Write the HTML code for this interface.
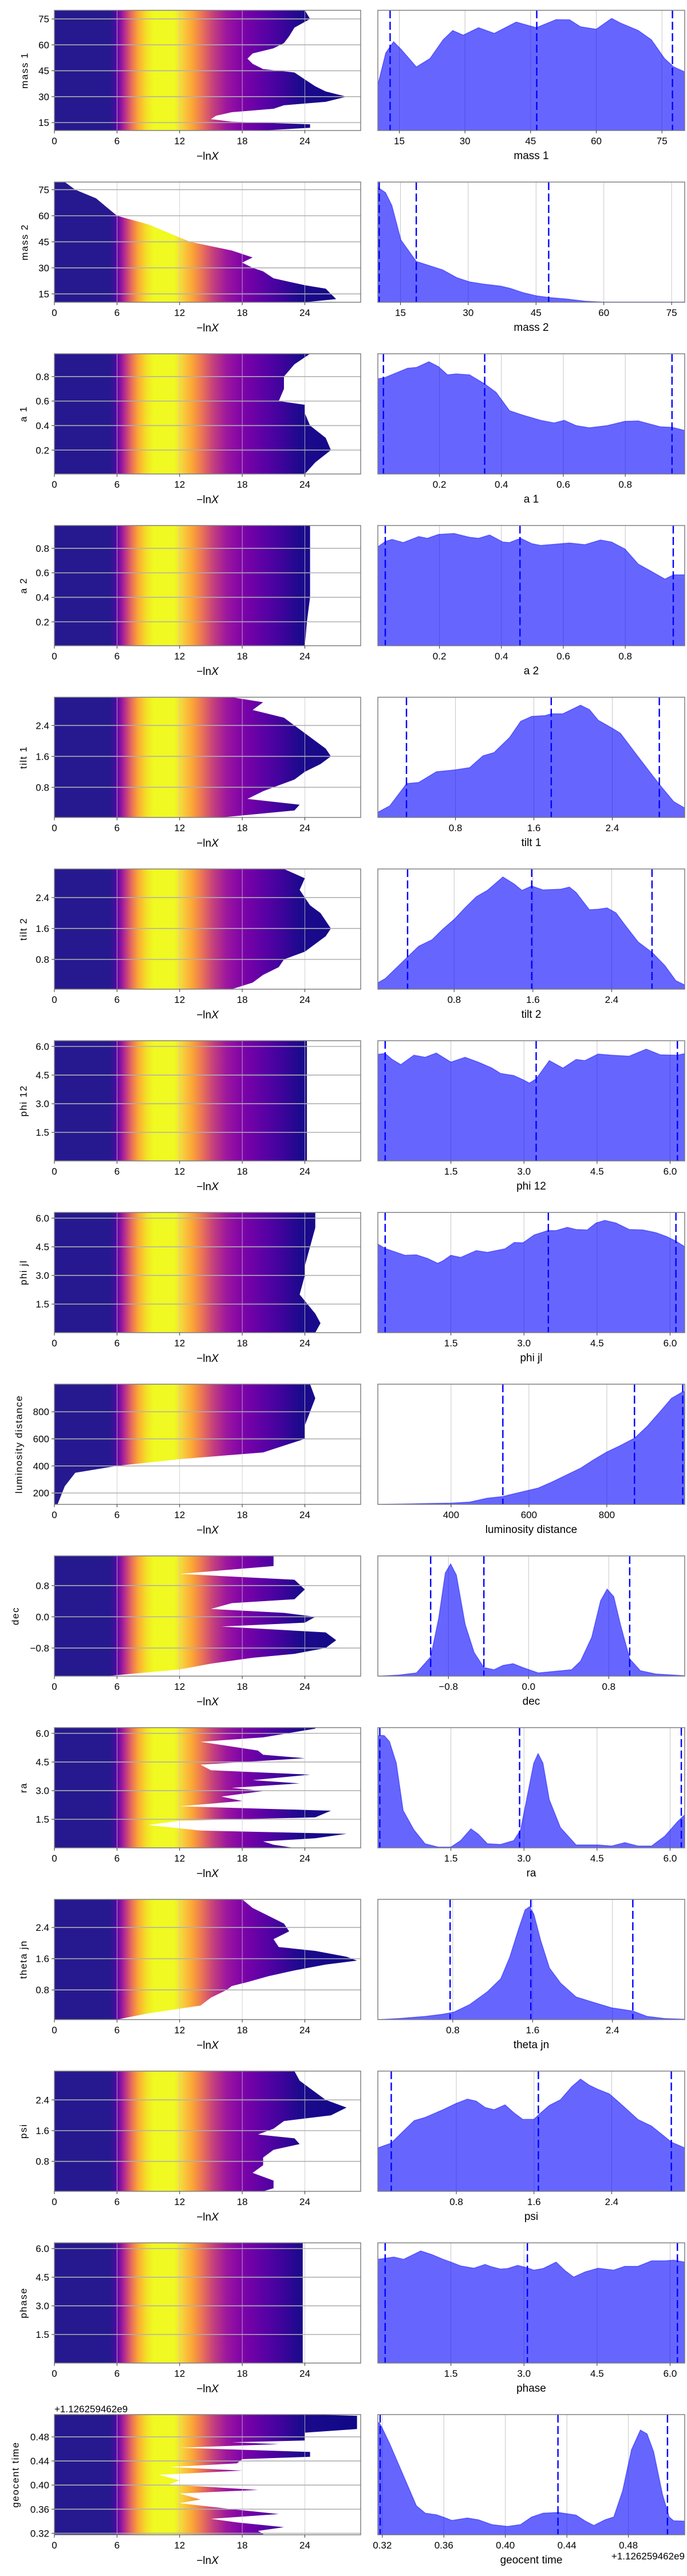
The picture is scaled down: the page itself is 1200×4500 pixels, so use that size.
<!DOCTYPE html>
<html><head><meta charset="utf-8">
<style>
html,body{margin:0;padding:0;background:#fff;}
svg{display:block;}
text{font-family:"Liberation Sans","DejaVu Sans",sans-serif;fill:#000;}
</style></head>
<body>
<svg id="fig" width="1200" height="4500" viewBox="0 0 1200 4500" xmlns="http://www.w3.org/2000/svg">
<defs>
<linearGradient id="plasma" gradientUnits="userSpaceOnUse" x1="95" y1="0" x2="630" y2="0">
<stop offset="0" stop-color="#26198f"/>
<stop offset="0.181" stop-color="#26198f"/>
<stop offset="0.201" stop-color="#4a0ca0"/>
<stop offset="0.211" stop-color="#7a05a8"/>
<stop offset="0.232" stop-color="#bb3488"/>
<stop offset="0.252" stop-color="#e76f5a"/>
<stop offset="0.273" stop-color="#fca835"/>
<stop offset="0.300" stop-color="#f4e027"/>
<stop offset="0.324" stop-color="#f0f921"/>
<stop offset="0.392" stop-color="#f0f921"/>
<stop offset="0.419" stop-color="#f7d03c"/>
<stop offset="0.450" stop-color="#fca636"/>
<stop offset="0.487" stop-color="#e66c5c"/>
<stop offset="0.521" stop-color="#c23d80"/>
<stop offset="0.562" stop-color="#9c179e"/>
<stop offset="0.613" stop-color="#7e03a8"/>
<stop offset="0.681" stop-color="#5c01a6"/>
<stop offset="0.750" stop-color="#3a049a"/>
<stop offset="0.801" stop-color="#1c0a8c"/>
<stop offset="1" stop-color="#0d0887"/>
</linearGradient>
</defs>
</svg>
<script>
// ---------- data ----------
const mass1ExtY=[10.4,12,14,15.5,17,19,21,23,25,27,30,33,36,40,44,46,49,52,55,58,61,65,70,75,80];
const mass1ExtX=[20,24.5,24.5,17,15,15.5,17,21,22,26,28,26,25,24,23,20,19,18.5,19,21,22,22.5,23,24.5,24];
const mass1KdeX=[10.1,11.9,13.7,15.4,18.9,22.0,25.0,27.2,29.6,33.1,36.7,41.7,46.3,50.8,53.9,56.4,60.0,63.5,65.5,69.6,72.6,75.6,77.7,80.2];
const mass1KdeY=[0.389,0.659,0.754,0.690,0.540,0.611,0.770,0.849,0.810,0.873,0.825,0.921,0.873,0.941,0.940,0.881,0.860,0.952,0.913,0.849,0.770,0.611,0.540,0.498];
const mass1Quant=[12.9,46.4,77.4];

const mass2ExtY=[10.2,12,15,18,20,22,24,26,28,30,33,36,40,45,50,55,60,65,70,75,79.4];
const mass2ExtX=[24,27,26.5,26,24,22.5,21,20.5,20,19,18,19,17,13,11,9,6,5,4,2,1];
const mass2KdeX=[10.0,10.3,11.7,13.1,15.1,18.5,21.5,24.4,27.4,30.3,33.3,37.2,39.2,42.1,45.1,48.0,51.9,55.9,59.8,77.9];
const mass2KdeY=[0.98,0.967,0.931,0.821,0.529,0.347,0.310,0.274,0.210,0.173,0.155,0.137,0.119,0.082,0.055,0.040,0.027,0.009,0.002,0.002];
const mass2Quant=[10.3,18.5,47.8];

const a1ExtY=[0.005,0.1,0.2,0.3,0.4,0.5,0.57,0.6,0.7,0.8,0.9,0.986];
const a1ExtX=[24,25,26.5,26,24.5,24,24,21.5,22,22,23,24.5];
const a1KdeX=[0.001,0.025,0.097,0.126,0.166,0.197,0.226,0.254,0.297,0.346,0.383,0.426,0.469,0.527,0.570,0.603,0.641,0.684,0.742,0.799,0.842,0.913,0.952,0.992];
const a1KdeY=[0.807,0.820,0.898,0.905,0.953,0.911,0.842,0.850,0.842,0.765,0.693,0.538,0.500,0.456,0.434,0.456,0.411,0.392,0.411,0.447,0.451,0.401,0.396,0.370];
const a1Quant=[0.019,0.346,0.951];

const a2ExtY=[0.005,0.2,0.4,0.6,0.8,0.986];
const a2ExtX=[24,24.2,24.5,24.5,24.5,24.5];
const a2KdeX=[0.001,0.025,0.047,0.083,0.133,0.161,0.197,0.247,0.297,0.326,0.362,0.405,0.426,0.462,0.498,0.527,0.570,0.620,0.670,0.720,0.756,0.799,0.842,0.885,0.928,0.956,0.992];
const a2KdeY=[0.839,0.885,0.903,0.876,0.927,0.912,0.945,0.953,0.921,0.912,0.940,0.880,0.876,0.912,0.867,0.852,0.861,0.872,0.858,0.898,0.880,0.821,0.693,0.630,0.566,0.602,0.602];
const a2Quant=[0.025,0.46,0.955];

const tilt1ExtY=[0.02,0.2,0.35,0.5,0.7,0.8,1.0,1.2,1.4,1.6,1.8,2.0,2.2,2.4,2.6,2.8,3.0,3.13];
const tilt1ExtX=[16,23,23.5,18.5,20,21,23,24,25.5,26.5,26,25,24,23,22,19,20,17];
const tilt1KdeX=[0.008,0.130,0.302,0.424,0.605,0.800,0.945,1.081,1.194,1.352,1.465,1.578,1.714,1.777,1.895,2.076,2.167,2.257,2.393,2.483,2.664,2.881,3.026,3.139];
const tilt1KdeY=[0.044,0.099,0.288,0.297,0.388,0.405,0.423,0.524,0.551,0.679,0.816,0.858,0.865,0.880,0.880,0.953,0.916,0.825,0.761,0.715,0.515,0.281,0.135,0.080];
const tilt1Quant=[0.30,1.777,2.88];

const tilt2ExtY=[0.03,0.2,0.4,0.6,0.8,1.0,1.2,1.4,1.6,1.8,2.0,2.2,2.4,2.6,2.9,3.14];
const tilt2ExtX=[17,19,20,21.5,22,24,25,26,26.5,26,25.5,24.5,24,23.5,24,22];
const tilt2KdeX=[0.025,0.102,0.237,0.327,0.440,0.575,0.687,0.800,0.913,1.025,1.138,1.295,1.408,1.489,1.588,1.701,1.881,1.971,2.039,2.174,2.264,2.354,2.444,2.534,2.669,2.814,2.940,3.052,3.142];
const tilt2KdeY=[0.055,0.091,0.201,0.274,0.365,0.420,0.511,0.593,0.693,0.785,0.839,0.953,0.894,0.839,0.876,0.843,0.849,0.867,0.821,0.675,0.679,0.690,0.648,0.547,0.401,0.310,0.201,0.073,0.036];
const tilt2Quant=[0.327,1.588,2.81];

const phi12ExtY=[0.005,3,6.3];
const phi12ExtX=[24.2,24.2,24.2];
const phi12KdeX=[0.00,0.15,0.29,0.47,0.74,0.97,1.20,1.50,1.79,2.06,2.34,2.52,2.79,2.98,3.11,3.25,3.52,3.80,4.07,4.25,4.52,4.80,5.16,5.51,5.80,6.14,6.30];
const phi12KdeY=[0.905,0.912,0.863,0.818,0.898,0.880,0.916,0.839,0.880,0.839,0.789,0.743,0.725,0.690,0.661,0.697,0.852,0.788,0.861,0.852,0.907,0.898,0.889,0.949,0.901,0.898,0.911];
const phi12Quant=[0.15,3.25,6.15];

const phijlExtY=[0.005,0.5,1,2,3,3.5,4.5,5.5,6.3];
const phijlExtX=[25,25.5,25,23.5,24,24,24.5,25,25];
const phijlKdeX=[0.00,0.15,0.43,0.56,0.79,1.02,1.23,1.34,1.50,1.70,2.02,2.25,2.61,2.80,2.98,3.21,3.49,3.66,3.89,4.07,4.30,4.48,4.66,4.89,5.16,5.44,5.71,5.94,6.12,6.30];
const phijlKdeY=[0.752,0.715,0.675,0.657,0.661,0.630,0.589,0.611,0.657,0.639,0.697,0.682,0.712,0.766,0.763,0.830,0.867,0.867,0.894,0.876,0.872,0.931,0.953,0.931,0.876,0.872,0.849,0.814,0.777,0.730];
const phijlQuant=[0.15,3.5,6.12];

const lumExtY=[116,250,350,400,450,500,600,700,800,900,1004];
const lumExtX=[0.3,1,2,6,12,20,24,24,24.5,25,24.5];
const lumKdeX=[212,277,400,448,493,533,562,596,624,659,699,733,767,800,835,872,904,938,966,995,1000];
const lumKdeY=[0,0.004,0.011,0.020,0.053,0.067,0.091,0.117,0.139,0.190,0.254,0.308,0.381,0.445,0.500,0.564,0.664,0.792,0.901,0.956,0.956];
const lumQuant=[533,871,995];

const decExtY=[-1.52,-1.35,-1.2,-1.05,-0.95,-0.8,-0.6,-0.4,-0.25,-0.15,0,0.1,0.2,0.35,0.45,0.7,0.95,1.1,1.3,1.56];
const decExtX=[5,12,15,19,23,26,27,26,16,24,25,22,15,17,23,24,23,12,21,21];
const decKdeX=[-1.504,-1.296,-1.119,-0.977,-0.897,-0.831,-0.778,-0.720,-0.632,-0.543,-0.446,-0.344,-0.256,-0.154,-0.057,0.098,0.253,0.430,0.519,0.629,0.718,0.784,0.850,0.917,1.010,1.116,1.271,1.558];
const decKdeY=[0,0.009,0.027,0.164,0.493,0.876,0.953,0.858,0.438,0.201,0.073,0.055,0.091,0.106,0.073,0.027,0.040,0.055,0.128,0.328,0.639,0.739,0.675,0.438,0.146,0.046,0.018,0.004];
const decQuant=[-0.977,-0.446,1.009];

const raExtY=[0,0.17,0.34,0.51,0.74,0.91,1.2,1.43,1.6,1.95,2.18,2.46,2.69,2.98,3.15,3.38,3.55,3.84,4.07,4.36,4.7,4.88,5.1,5.56,5.79,6.25,6.3];
const raExtX=[23,21,20,25,28,14,9,12,25,26.5,12,18,16,20,17,23.5,19,24.5,15,14,24,20,19.5,14,20,25,25];
const raKdeX=[0.00,0.04,0.13,0.24,0.38,0.52,0.74,0.97,1.24,1.50,1.70,1.91,2.06,2.25,2.52,2.79,2.93,3.07,3.20,3.29,3.39,3.52,3.75,4.07,4.52,4.80,5.07,5.34,5.62,5.89,6.16,6.30];
const raKdeY=[0.95,0.956,0.953,0.902,0.719,0.318,0.153,0.035,0.007,0.007,0.062,0.162,0.117,0.035,0.029,0.062,0.153,0.445,0.719,0.801,0.719,0.409,0.172,0.025,0.025,0.016,0.044,0.016,0.016,0.099,0.226,0.281];
const raQuant=[0.04,2.91,6.23];

const thetaExtY=[0.04,0.2,0.4,0.6,0.8,0.9,1.0,1.15,1.3,1.45,1.55,1.65,1.8,1.9,2.1,2.3,2.5,2.7,2.9,3.12];
const thetaExtX=[6,9,14,15,16.5,17,18.5,20.5,23,26,29,28,25,21.5,21,22.5,22,20.5,19,18];
const thetaKdeX=[0.049,0.258,0.524,0.702,0.813,0.969,1.147,1.280,1.369,1.458,1.524,1.569,1.613,1.680,1.769,1.880,2.036,2.213,2.391,2.604,2.747,2.924,3.124];
const thetaKdeY=[0,0.009,0.027,0.046,0.064,0.128,0.237,0.347,0.526,0.766,0.931,0.958,0.894,0.675,0.438,0.310,0.192,0.146,0.100,0.073,0.027,0.009,0.004];
const thetaQuant=[0.773,1.582,2.604];

const psiExtY=[0.02,0.1,0.3,0.5,0.7,0.9,1.1,1.25,1.4,1.5,1.65,1.85,2.0,2.2,2.4,2.6,2.9,3.15];
const psiExtX=[20,21,21,19,20,20,21,23.5,23,19.5,21,22,26.5,28,26,25,23.5,23];
const psiKdeX=[-0.008,0.129,0.252,0.366,0.480,0.663,0.800,0.914,1.005,1.097,1.188,1.302,1.394,1.485,1.599,1.645,1.759,1.873,1.987,2.079,2.170,2.261,2.375,2.489,2.672,2.809,2.946,3.014,3.152];
const psiKdeY=[0.369,0.409,0.509,0.600,0.628,0.693,0.747,0.783,0.766,0.712,0.693,0.734,0.666,0.611,0.611,0.648,0.730,0.778,0.887,0.953,0.901,0.865,0.828,0.746,0.609,0.555,0.464,0.418,0.369];
const psiQuant=[0.13,1.645,3.014];

const phaseExtY=[0.005,6.3];
const phaseExtX=[23.8,23.8];
const phaseKdeX=[0.00,0.15,0.33,0.53,0.88,1.11,1.34,1.50,1.70,1.97,2.20,2.34,2.52,2.66,2.87,3.06,3.20,3.39,3.66,3.84,4.02,4.25,4.52,4.84,5.07,5.34,5.62,5.89,6.07,6.30];
const phaseKdeY=[0.881,0.889,0.900,0.881,0.952,0.921,0.881,0.857,0.825,0.805,0.837,0.817,0.798,0.802,0.829,0.810,0.789,0.802,0.857,0.786,0.730,0.773,0.805,0.789,0.821,0.821,0.868,0.868,0.873,0.857];
const phaseQuant=[0.15,3.07,6.15];

const geoExtY=[0.3175,0.319,0.324,0.33,0.338,0.344,0.352,0.36,0.37,0.376,0.386,0.392,0.401,0.408,0.417,0.424,0.43,0.436,0.443,0.447,0.455,0.462,0.468,0.471,0.474,0.48,0.487,0.493,0.505,0.515,0.517];
const geoExtX=[20,20,19.5,22,17.5,15,21.5,17,12,14,12,19.5,11,12,10,18,11,17.5,18,24.5,24.5,12,21.5,17,24,24,24,29,29,29,25];
const geoKdeX=[0.3171,0.3180,0.3197,0.3249,0.3307,0.3364,0.3422,0.3480,0.3552,0.3595,0.3653,0.3753,0.3826,0.3912,0.4013,0.4099,0.4171,0.4244,0.4344,0.4460,0.4517,0.4575,0.4647,0.4705,0.4762,0.4820,0.4878,0.4921,0.4964,0.5022,0.5065,0.5094,0.5166];
const geoKdeY=[0.95,0.952,0.913,0.770,0.595,0.421,0.246,0.183,0.170,0.151,0.122,0.143,0.127,0.087,0.071,0.087,0.151,0.183,0.190,0.167,0.119,0.079,0.127,0.151,0.373,0.722,0.889,0.857,0.706,0.341,0.151,0.119,0.116];
const geoQuant=[0.3186,0.4342,0.5054];

const lnxTicks=[0,6,12,18,24];
const massTicks=[15,30,45,60,75];
const spinTicks=[0.2,0.4,0.6,0.8];
const angTicks=[0.8,1.6,2.4];
const phiTicks=[1.5,3.0,4.5,6.0];
const lumYTicks=[200,400,600,800];
const lumXTicks=[400,600,800];
const decTicks=[-0.8,0.0,0.8];
const geoTicks=[0.32,0.36,0.40,0.44,0.48];

const rows=[
 {key:'mass-1',label:'mass 1',yR:[10.4,80],yT:massTicks,dec:0,eY:mass1ExtY,eX:mass1ExtX,kR:[10.1,80.2],kT:massTicks,kX:mass1KdeX,kY:mass1KdeY,q:mass1Quant,lx:44},
 {key:'mass-2',label:'mass 2',yR:[10.2,79.4],yT:massTicks,dec:0,eY:mass2ExtY,eX:mass2ExtX,kR:[10.0,77.9],kT:massTicks,kX:mass2KdeX,kY:mass2KdeY,q:mass2Quant,lx:44},
 {key:'a-1',label:'a 1',yR:[0.005,0.986],yT:spinTicks,dec:1,eY:a1ExtY,eX:a1ExtX,kR:[0.001,0.992],kT:spinTicks,kX:a1KdeX,kY:a1KdeY,q:a1Quant,lx:42},
 {key:'a-2',label:'a 2',yR:[0.005,0.986],yT:spinTicks,dec:1,eY:a2ExtY,eX:a2ExtX,kR:[0.001,0.992],kT:spinTicks,kX:a2KdeX,kY:a2KdeY,q:a2Quant,lx:42},
 {key:'tilt-1',label:'tilt 1',yR:[0.02,3.13],yT:angTicks,dec:1,eY:tilt1ExtY,eX:tilt1ExtX,kR:[0.008,3.139],kT:angTicks,kX:tilt1KdeX,kY:tilt1KdeY,q:tilt1Quant,lx:42},
 {key:'tilt-2',label:'tilt 2',yR:[0.03,3.14],yT:angTicks,dec:1,eY:tilt2ExtY,eX:tilt2ExtX,kR:[0.025,3.142],kT:angTicks,kX:tilt2KdeX,kY:tilt2KdeY,q:tilt2Quant,lx:42},
 {key:'phi-12',label:'phi 12',yR:[0.005,6.30],yT:phiTicks,dec:1,eY:phi12ExtY,eX:phi12ExtX,kR:[0,6.30],kT:phiTicks,kX:phi12KdeX,kY:phi12KdeY,q:phi12Quant,lx:42},
 {key:'phi-jl',label:'phi jl',yR:[0.005,6.30],yT:phiTicks,dec:1,eY:phijlExtY,eX:phijlExtX,kR:[0,6.30],kT:phiTicks,kX:phijlKdeX,kY:phijlKdeY,q:phijlQuant,lx:42},
 {key:'luminosity-distance',label:'luminosity distance',yR:[116,1004],yT:lumYTicks,dec:0,eY:lumExtY,eX:lumExtX,kR:[212,1000],kT:lumXTicks,kX:lumKdeX,kY:lumKdeY,q:lumQuant,lx:34},
 {key:'dec',label:'dec',yR:[-1.52,1.56],yT:decTicks,dec:1,eY:decExtY,eX:decExtX,kR:[-1.504,1.558],kT:decTicks,kX:decKdeX,kY:decKdeY,q:decQuant,lx:28},
 {key:'ra',label:'ra',yR:[0.005,6.30],yT:phiTicks,dec:1,eY:raExtY,eX:raExtX,kR:[0,6.30],kT:phiTicks,kX:raKdeX,kY:raKdeY,q:raQuant,lx:42},
 {key:'theta-jn',label:'theta jn',yR:[0.04,3.12],yT:angTicks,dec:1,eY:thetaExtY,eX:thetaExtX,kR:[0.049,3.124],kT:angTicks,kX:thetaKdeX,kY:thetaKdeY,q:thetaQuant,lx:42},
 {key:'psi',label:'psi',yR:[0.02,3.15],yT:angTicks,dec:1,eY:psiExtY,eX:psiExtX,kR:[-0.008,3.152],kT:angTicks,kX:psiKdeX,kY:psiKdeY,q:psiQuant,lx:42},
 {key:'phase',label:'phase',yR:[0.005,6.30],yT:phiTicks,dec:1,eY:phaseExtY,eX:phaseExtX,kR:[0,6.30],kT:phiTicks,kX:phaseKdeX,kY:phaseKdeY,q:phaseQuant,lx:42},
 {key:'geocent-time',label:'geocent time',yR:[0.3175,0.517],yT:geoTicks,dec:2,eY:geoExtY,eX:geoExtX,kR:[0.3171,0.5166],kT:geoTicks,kX:geoKdeX,kY:geoKdeY,q:geoQuant,lx:28}
];

// ---------- drawing ----------
const NS='http://www.w3.org/2000/svg';
const svg=document.getElementById('fig');
const LX0=95,LX1=630,RX0=660,RX1=1196,PH=210,LNMAX=29.35;
function mk(tag,attrs,parent){const e=document.createElementNS(NS,tag);for(const k in attrs)e.setAttribute(k,attrs[k]);(parent||svg).appendChild(e);return e;}
function fmt(v,d){const s=v.toFixed(d);return s.replace('-','\u2212');}
function xLn(v){return LX0+(v/LNMAX)*(LX1-LX0);}

rows.forEach((r,i)=>{
  const top=18+300*i, bot=top+PH;
  const yS=v=>bot-(v-r.yR[0])/(r.yR[1]-r.yR[0])*PH;
  const kS=v=>RX0+(v-r.kR[0])/(r.kR[1]-r.kR[0])*(RX1-RX0);
  const hS=h=>bot-h*PH*0.98;
  const g=mk('g',{});
  
  

  // clip
  const cp=mk('clipPath',{id:'cl'+i},g);
  mk('rect',{x:LX0,y:top,width:LX1-LX0,height:PH},cp);
  const cp2=mk('clipPath',{id:'cr'+i},g);
  mk('rect',{x:RX0,y:top,width:RX1-RX0,height:PH},cp2);

  // ---- left trace panel ----
  const lp=mk('g',{'clip-path':'url(#cl'+i+')'},g);
  
  
  let pts=[[xLn(0),yS(r.eY[0])]];
  for(let k=0;k<r.eY.length;k++)pts.push([xLn(r.eX[k]),yS(r.eY[k])]);
  pts.push([xLn(0),yS(r.eY[r.eY.length-1])]);
  const poly=mk('polygon',{points:pts.map(p=>p[0].toFixed(1)+','+p[1].toFixed(1)).join(' '),fill:'url(#plasma)'},lp);
  
  
  lnxTicks.forEach(t=>{
    const gl=mk('line',{x1:xLn(t),x2:xLn(t),y1:top,y2:bot,stroke:'#c8c8c8','stroke-width':0.8},lp);
    
    
  });
  r.yT.forEach(t=>{
    const gl=mk('line',{x1:LX0,x2:LX1,y1:yS(t),y2:yS(t),stroke:'#b0b0b0','stroke-width':1.6},lp);
    
    
  });
  const fr=mk('rect',{x:LX0,y:top,width:LX1-LX0,height:PH,fill:'none',stroke:'#808080','stroke-width':1.5},g);
  
  
  lnxTicks.forEach(t=>{
    mk('line',{x1:xLn(t),x2:xLn(t),y1:bot,y2:bot+5,stroke:'#333','stroke-width':1},g);
    const tx=mk('text',{x:xLn(t),y:bot+24,'text-anchor':'middle','font-size':17},g);
    tx.textContent=String(t);
    
    
  });
  r.yT.forEach(t=>{
    mk('line',{x1:LX0-5,x2:LX0,y1:yS(t),y2:yS(t),stroke:'#333','stroke-width':1},g);
    const tx=mk('text',{x:LX0-9,y:yS(t)+6,'text-anchor':'end','font-size':17},g);
    tx.textContent=fmt(t,r.dec);
    
    
  });
  const xl=mk('text',{x:(LX0+LX1)/2,y:top+261,'text-anchor':'middle','font-size':19,'font-family':'DejaVu Sans, sans-serif'},g);
  xl.innerHTML='\u2212ln<tspan font-style="italic">X</tspan>';
  
  
  const yl=mk('text',{x:r.lx,y:top+PH/2,'text-anchor':'middle','font-size':17,'font-family':'DejaVu Sans, sans-serif',transform:'rotate(-90 '+r.lx+' '+(top+PH/2)+')','dominant-baseline':'middle','letter-spacing':'1.5'},g);
  yl.textContent=r.label;
  
  

  // ---- right KDE panel ----
  const rp=mk('g',{'clip-path':'url(#cr'+i+')'},g);
  
  
  r.kT.forEach(t=>{
    const gl=mk('line',{x1:kS(t),x2:kS(t),y1:top,y2:bot,stroke:'#c0c0c0','stroke-width':0.9},rp);
    
    
  });
  let d='M'+kS(r.kX[0]).toFixed(1)+','+bot;
  for(let k=0;k<r.kX.length;k++)d+=' L'+kS(r.kX[k]).toFixed(1)+','+hS(r.kY[k]).toFixed(1);
  d+=' L'+kS(r.kX[r.kX.length-1]).toFixed(1)+','+bot+' Z';
  const area=mk('path',{d:d,fill:'#0000ff','fill-opacity':0.6,stroke:'#0000ff','stroke-opacity':0.45,'stroke-width':1.5,'stroke-linejoin':'round'},rp);
  
  
  r.q.forEach(v=>{
    const ql=mk('line',{x1:kS(v),x2:kS(v),y1:top,y2:bot,stroke:'#0000ff','stroke-width':2.4,'stroke-dasharray':'14 6'},rp);
    
    
  });
  const fr2=mk('rect',{x:RX0,y:top,width:RX1-RX0,height:PH,fill:'none',stroke:'#808080','stroke-width':1.5},g);
  
  
  r.kT.forEach(t=>{
    mk('line',{x1:kS(t),x2:kS(t),y1:bot,y2:bot+5,stroke:'#333','stroke-width':1},g);
    const tx=mk('text',{x:kS(t),y:bot+24,'text-anchor':'middle','font-size':17},g);
    tx.textContent=fmt(t,r.dec);
    
    
  });
  const kl=mk('text',{x:(RX0+RX1)/2,y:top+260,'text-anchor':'middle','font-size':19},g);
  kl.textContent=r.label;
  
  

  if(r.key==='geocent-time'){
    const o1=mk('text',{x:LX0,y:top-4,'font-size':17},g);
    o1.textContent='+1.126259462e9';
    
    
    const o2=mk('text',{x:RX1,y:top+253,'text-anchor':'end','font-size':17},g);
    o2.textContent='+1.126259462e9';
    
    
  }
});
</script>
</body></html>
